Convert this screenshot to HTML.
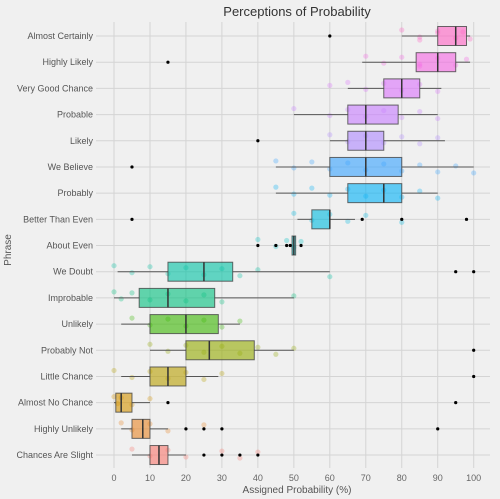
<!DOCTYPE html>
<html><head><meta charset="utf-8"><style>
html,body{margin:0;padding:0;background:#f0f0f0;}
svg{display:block;font-family:"Liberation Sans",sans-serif;}
</style></head><body>
<svg id="chart" width="500" height="499" viewBox="0 0 500 499">
<rect x="0" y="0" width="500" height="499" fill="#f0f0f0"/>
<text x="297" y="16" text-anchor="middle" font-size="13" fill="#333">Perceptions of Probability</text>
<text x="297" y="493" text-anchor="middle" font-size="10" fill="#555">Assigned Probability (%)</text>
<text transform="translate(11,250) rotate(-90)" text-anchor="middle" font-size="10" fill="#555">Phrase</text>
<g id="grid"></g><g id="points"></g><g id="boxes"></g><g id="labels"></g>
</svg>
<script>
const phrases=["Almost Certainly","Highly Likely","Very Good Chance","Probable","Likely","We Believe","Probably","Better Than Even","About Even","We Doubt","Improbable","Unlikely","Probably Not","Little Chance","Almost No Chance","Highly Unlikely","Chances Are Slight"];
const whiskerLow=[80,69,65,50,60,45,45,51,49.5,1,0,2,10,2,0,2,5];
const q1=[90,84,75,65,65,60,65,55,49.5,15,7,10,20,10,0.5,5,10];
const medians=[95,90,80,70,70,70,75,60,50,25,15,20,26.5,15,2,8,12.5];
const q3=[98,95,85,79,75,80,80,60,50.5,33,28,29,39,20,5,10,15];
const whiskerHigh=[99,99,91,90,92,100,90,67,50.5,60,50,35,50,29,10,15,20];
const outliers=[[60],[15],[],[],[40],[5],[],[5,69,80,98],[40,45,48,49,52],[95,100],[],[],[100],[100],[15,95],[20,25,30,90],[25,30,35,40]];
const jitter=[[80,85,90,95,97,99,90,85],[70,75,80,85,90,95,98,85],[65,70,75,80,85,90,60],[50,60,65,70,75,80,85,90],[60,65,70,75,80,85,90],[45,50,55,60,65,70,75,80,85,90,95,100],[45,50,55,60,65,70,75,80,85,90],[50,55,60,65,70,80],[40,45,48,50,52],[0,5,10,15,20,25,30,35,40,60],[0,2,5,10,15,20,25,30,50],[5,10,15,20,25,30,35],[10,15,20,25,30,35,40,45,50],[0,5,10,15,20,25,30],[0,1,2,5,10],[2,5,10,15,25],[5,10,15,20,30,35,40]];
const xTicks=[0,10,20,30,40,50,60,70,80,90,100];
const colors=["#FF61C3","#F564E3","#DB72FB","#C77CFF","#AE87FF","#35A2FF","#00B0F6","#00BAE0","#00BFC4","#00C1A3","#00BF7D","#39B600","#93AA00","#B79F00","#D39200","#E88526","#F8766D"];
const NS="http://www.w3.org/2000/svg";
const X=v=>114+v*3.597;
const Y=i=>36+i*26.19;
function mk(p,t,a){const e=document.createElementNS(NS,t);for(const k in a)e.setAttribute(k,a[k]);p.appendChild(e);return e;}
const grid=document.getElementById('grid'),pts=document.getElementById('points'),bx=document.getElementById('boxes'),lb=document.getElementById('labels');
xTicks.forEach(t=>{
 const l=mk(grid,'line',{x1:X(t),x2:X(t),y1:22,y2:468,stroke:'#d4d4d4','stroke-width':1});
 
 
 const tx=mk(lb,'text',{x:X(t),y:481,'text-anchor':'middle','font-size':9,fill:'#666'});
 tx.textContent=t;
 
 
});
phrases.forEach((p,i)=>{
 const y=Y(i);
 const gl=mk(grid,'line',{x1:96,x2:490,y1:y,y2:y,stroke:'#d4d4d4','stroke-width':1});
 
 
 const t=mk(lb,'text',{x:93,y:y+3,'text-anchor':'end','font-size':9,fill:'#555'});
 t.textContent=p;
 
 
 jitter[i].forEach((v,k)=>{
  const c=mk(pts,'circle',{cx:X(v),cy:y+((k*7)%13-6),r:2.6,fill:colors[i],'fill-opacity':0.3});
  
  
 });
 const g=mk(bx,'g',{});
 
 
 mk(g,'line',{x1:X(whiskerLow[i]),x2:X(q1[i]),y1:y,y2:y,stroke:'#555','stroke-width':1});
 mk(g,'line',{x1:X(q3[i]),x2:X(whiskerHigh[i]),y1:y,y2:y,stroke:'#555','stroke-width':1});
 mk(g,'rect',{x:X(q1[i]),y:y-9.5,width:Math.max(1.5,X(q3[i])-X(q1[i])),height:19,fill:colors[i],'fill-opacity':0.6,stroke:'#444','stroke-opacity':0.8,'stroke-width':1});
 mk(g,'line',{x1:X(medians[i]),x2:X(medians[i]),y1:y-9.5,y2:y+9.5,stroke:'#333','stroke-width':1.5});
 outliers[i].forEach(v=>{
  const o=mk(g,'circle',{cx:X(v),cy:y,r:1.6,fill:'#000'});
  
  
 });
});
</script>
</body></html>
